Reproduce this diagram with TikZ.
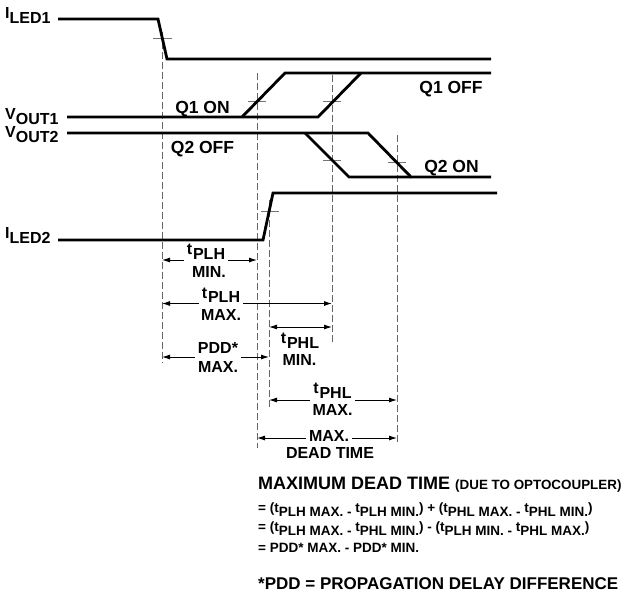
\documentclass[tikz,border=0pt]{standalone}
\usepackage{fontspec}
\setmainfont{Liberation Sans}
\usetikzlibrary{arrows.meta}
\newcommand\lowr[1]{\raisebox{-0.32em}{#1}}
\newcommand\tsub[1]{\raisebox{0.28em}{t}\kern0.8pt#1}
\begin{document}
\begin{tikzpicture}[x=1pt,y=-1pt,
  font=\bfseries\fontsize{16}{18}\selectfont,
  sig/.style={line width=2.8pt},
  guide/.style={draw=black!60, line width=0.9pt, dash pattern=on 6.5pt off 3.5pt},
  tick/.style={draw=black!55, line width=0.9pt},
  dim/.style={line width=0.9pt, -{Latex[length=8pt,width=5pt]}},
  dimb/.style={line width=0.9pt, {Latex[length=8pt,width=5pt]}-{Latex[length=8pt,width=5pt]}},
  lbl/.style={inner sep=0pt, anchor=base},
  st/.style={inner sep=0pt, anchor=base, font=\bfseries\fontsize{17.5}{20}\selectfont},
  dl/.style={inner xsep=3pt, inner ysep=0pt, anchor=base},
  eq/.style={inner sep=0pt, anchor=base west, font=\bfseries\fontsize{13.5}{15}\selectfont}]
\useasboundingbox (0,0) rectangle (629,606);

% signal labels
\node[lbl, anchor=base west] (iled1) at (5,18.5) {I\lowr{LED1}};
\node[lbl, anchor=base west] (vout1) at (5,119) {V\lowr{OUT1}};
\node[lbl, anchor=base west] (vout2) at (5,137) {V\lowr{OUT2}};
\node[lbl, anchor=base west] (iled2) at (5,238) {I\lowr{LED2}};

% guide lines (dashed)
\draw[guide] (162,32) -- (162,363);
\draw[guide] (257,73) -- (257,448);
\draw[guide] (269,200) -- (269,410);
\draw[guide] (332,75) -- (332,345);
\draw[guide] (397,135) -- (397,445);

% crossing ticks
\draw[tick] (153,38) -- (172,38);
\draw[tick] (248,101.5) -- (266,101.5);
\draw[tick] (323,101) -- (341,101);
\draw[tick] (323,160) -- (341,160);
\draw[tick] (388,162) -- (406,162);
\draw[tick] (261,211) -- (279,211);

% signals
\draw[sig] (58,19) -- (158,19) -- (167,59) -- (491,59);
\draw[sig] (67,117) -- (318,117) -- (361,73);
\draw[sig] (242,117) -- (285,73) -- (491,73);
\draw[sig] (67,133) -- (368,133) -- (411,177) -- (491,177);
\draw[sig] (305,133) -- (349,177) -- (411,177);
\draw[sig] (58,240) -- (263,240) -- (273,193) -- (497,193);

% state labels
\node[st] (q1on)  at (202.5,113) {Q1 ON};
\node[st] (q2off) at (202.5,153) {Q2 OFF};
\node[st] (q1off) at (451,93) {Q1 OFF};
\node[st] (q2on)  at (451.5,172) {Q2 ON};

% tPLH MIN
\coordinate (a1) at (162,260); \coordinate (b1) at (257,260);
\node[dl] (t1) at (206,259) {\tsub{PLH}};
\node[lbl] (m1) at (209,277) {MIN.};
\draw[dim] (t1.west |- a1) -- (a1);
\draw[dim] (t1.east |- b1) -- (b1);

% tPLH MAX
\coordinate (a2) at (162,303.5); \coordinate (b2) at (332,303.5);
\node[dl] (t2) at (221,302.5) {\tsub{PLH}};
\node[lbl] (m2) at (221,320) {MAX.};
\draw[dim] (t2.west |- a2) -- (a2);
\draw[dim] (t2.east |- b2) -- (b2);

% tPHL MIN
\coordinate (a3) at (269,327); \coordinate (b3) at (332,327);
\draw[dimb] (a3) -- (b3);
\node[lbl] (t3) at (300,348) {\tsub{PHL}};
\node[lbl] (m3) at (299.5,365) {MIN.};

% PDD* MAX
\coordinate (a4) at (162,357); \coordinate (b4) at (269,357);
\node[dl] (t4) at (218,353) {PDD*};
\node[lbl] (m4) at (218,372) {MAX.};
\draw[dim] (t4.west |- a4) -- (a4);
\draw[dim] (t4.east |- b4) -- (b4);

% tPHL MAX
\coordinate (a5) at (269,400); \coordinate (b5) at (397,400);
\node[dl] (t5) at (332.5,398) {\tsub{PHL}};
\node[lbl] (m5) at (332.5,415) {MAX.};
\draw[dim] (t5.west |- a5) -- (a5);
\draw[dim] (t5.east |- b5) -- (b5);

% MAX. DEAD TIME
\coordinate (a6) at (257,438); \coordinate (b6) at (397,438);
\node[dl] (t6) at (329,441) {MAX.};
\node[lbl] (m6) at (330,458) {DEAD TIME};
\draw[dim] (t6.west |- a6) -- (a6);
\draw[dim] (t6.east |- b6) -- (b6);

% bottom text
\node[lbl, anchor=base west, font=\bfseries\fontsize{18}{21}\selectfont] (title) at (258,489) {MAXIMUM DEAD TIME {\fontsize{13.4}{16}\selectfont(DUE TO OPTOCOUPLER)}};
\node[eq] (e1) at (258,512) {= (t\lowr{PLH MAX. - }t\lowr{PLH MIN.}) + (t\lowr{PHL MAX. - }t\lowr{PHL MIN.})};
\node[eq] (e2) at (258,531) {= (t\lowr{PLH MAX. - }t\lowr{PHL MIN.}) - (t\lowr{PLH MIN. - }t\lowr{PHL MAX.})};
\node[eq] (e3) at (258,552) {= PDD* MAX. - PDD* MIN.};
\node[lbl, anchor=base west, font=\bfseries\fontsize{17}{20}\selectfont] (note) at (258,589) {*PDD = PROPAGATION DELAY DIFFERENCE};
\end{tikzpicture}
\end{document}
